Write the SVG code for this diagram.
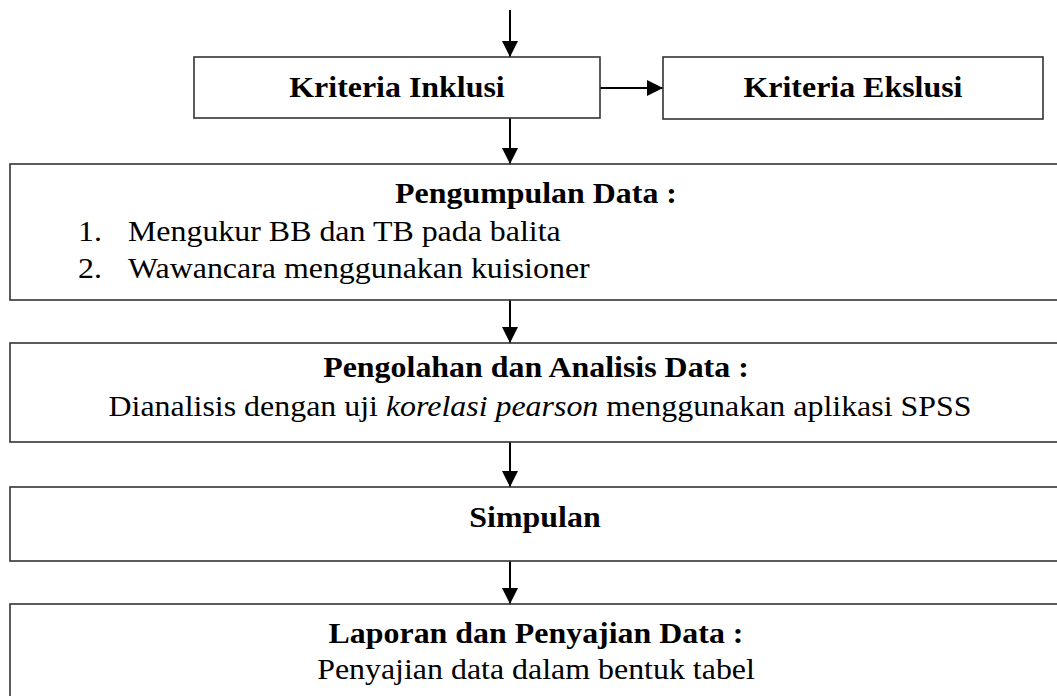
<svg xmlns="http://www.w3.org/2000/svg" width="1057" height="696" viewBox="0 0 1057 696">
<style>
.box{fill:#fff;stroke:#333;stroke-width:1.6}
.t{font-family:"Liberation Serif","Times New Roman",serif;font-size:28.5px;fill:#000}
.b{font-weight:bold}
.c{text-anchor:middle}
.conn{stroke:#000;stroke-width:2;fill:none}
</style>
<defs>
<marker id="ah" markerUnits="userSpaceOnUse" markerWidth="16" markerHeight="16" refX="16" refY="8" orient="auto">
<path d="M0,0 L16,8 L0,16 z" fill="#000"/>
</marker>
</defs>
<rect width="1057" height="696" fill="#fff"/>
<g id="connectors">
<line class="conn" x1="510" y1="10" x2="510" y2="57" marker-end="url(#ah)"/>
<line class="conn" x1="600" y1="88" x2="663" y2="88" marker-end="url(#ah)"/>
<line class="conn" x1="510" y1="118" x2="510" y2="164" marker-end="url(#ah)"/>
<line class="conn" x1="510" y1="300" x2="510" y2="343" marker-end="url(#ah)"/>
<line class="conn" x1="510" y1="442" x2="510" y2="487" marker-end="url(#ah)"/>
<line class="conn" x1="510" y1="561" x2="510" y2="604" marker-end="url(#ah)"/>
</g>
<g id="inklusi">
<rect class="box" x="194" y="57" width="406" height="61"/>
<text class="t b c" transform="translate(397,97) scale(1.12,1)">Kriteria Inklusi</text>
</g>
<g id="ekslusi">
<rect class="box" x="663" y="57" width="380" height="62"/>
<text class="t b c" transform="translate(853,97) scale(1.12,1)">Kriteria Ekslusi</text>
</g>
<g id="pengumpulan">
<rect class="box" x="10" y="164" width="1060" height="136"/>
<text class="t b c" transform="translate(536,203) scale(1.12,1)">Pengumpulan Data :</text>
<text class="t" transform="translate(78,241) scale(1.12,1)">1.<tspan x="44.6">Mengukur BB dan TB pada balita</tspan></text>
<text class="t" transform="translate(78,278) scale(1.12,1)">2.<tspan x="44.6">Wawancara menggunakan kuisioner</tspan></text>
</g>
<g id="pengolahan">
<rect class="box" x="10" y="343" width="1060" height="99"/>
<text class="t b c" transform="translate(536,377) scale(1.12,1)">Pengolahan dan Analisis Data :</text>
<text class="t c" transform="translate(540,416) scale(1.12,1)">Dianalisis dengan uji <tspan font-style="italic">korelasi pearson</tspan> menggunakan aplikasi SPSS</text>
</g>
<g id="simpulan">
<rect class="box" x="10" y="487" width="1060" height="74"/>
<text class="t b c" transform="translate(535,527) scale(1.12,1)">Simpulan</text>
</g>
<g id="laporan">
<rect class="box" x="10" y="604" width="1060" height="110"/>
<text class="t b c" transform="translate(536,643) scale(1.12,1)">Laporan dan Penyajian Data :</text>
<text class="t c" transform="translate(536,679) scale(1.12,1)">Penyajian data dalam bentuk tabel</text>
</g>
</svg>
